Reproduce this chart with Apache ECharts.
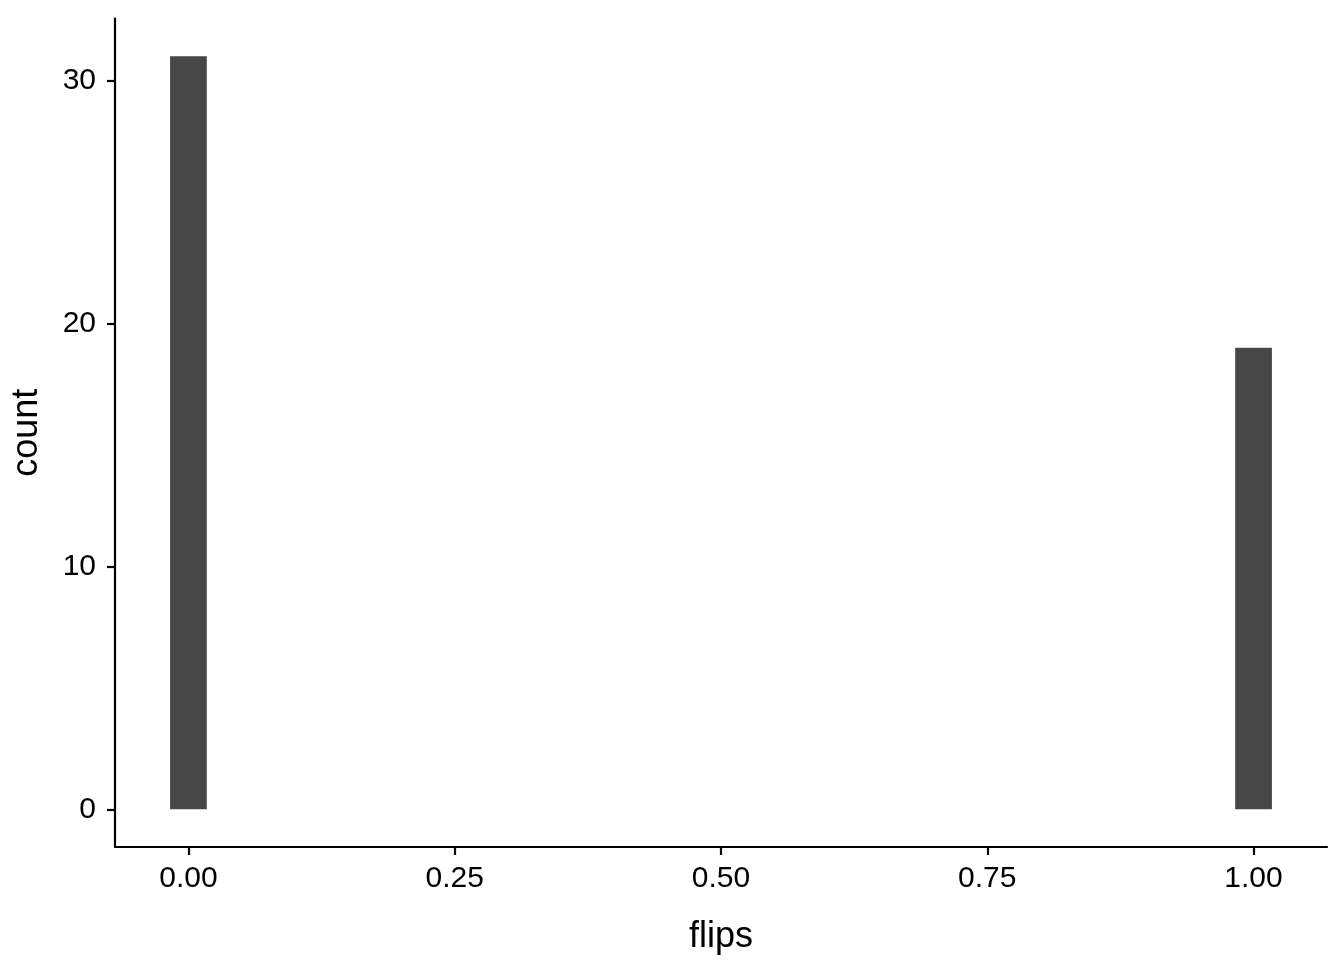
<!DOCTYPE html>
<html>
<head>
<meta charset="utf-8">
<script src="https://cdn.jsdelivr.net/npm/echarts@6/dist/echarts.min.js"></script>
<style>
html,body{margin:0;padding:0;background:#fff;}
#chart{width:1344px;height:960px;}
</style>
</head>
<body>
<div id="chart"></div>
<script>
// Histogram data (30 bins over [0,1]; only non-empty bins listed)
const binCenters = [0, 1];
const counts = [31, 19];
const binWidth = 1 / 29;
const xTicks = [0, 0.25, 0.5, 0.75, 1];
const xTickLabels = ['0.00', '0.25', '0.50', '0.75', '1.00'];
const yTicks = [0, 10, 20, 30];

const xMin = -binWidth / 2, xMax = 1 + binWidth / 2;
const xPad = (xMax - xMin) * 0.05;
const yMaxData = Math.max(...counts);
const yPad = yMaxData * 0.05;

const chart = echarts.init(document.getElementById('chart'), null, {renderer: 'canvas'});
const font = 'Liberation Sans, Arial, Helvetica, sans-serif';

chart.setOption({
  backgroundColor: '#ffffff',
  animation: false,
  grid: {left: 115, right: 17, top: 18.5, bottom: 109.5, containLabel: false},
  xAxis: {
    type: 'value',
    min: xMin - xPad,
    max: xMax + xPad,
    name: 'flips',
    nameLocation: 'middle',
    nameGap: 72,
    nameTextStyle: {fontFamily: font, fontSize: 36, color: '#000'},
    axisLine: {show: true, onZero: false, lineStyle: {color: '#000', width: 2.2}},
    axisTick: {show: true, length: 8, lineStyle: {color: '#000', width: 2.2}, customValues: xTicks},
    axisLabel: {
      fontFamily: font, fontSize: 30, color: '#000', margin: 17,
      customValues: xTicks,
      formatter: function (v) {
        const i = xTicks.findIndex(t => Math.abs(t - v) < 1e-9);
        return i >= 0 ? xTickLabels[i] : '';
      }
    },
    splitLine: {show: false}
  },
  yAxis: {
    type: 'value',
    min: -yPad,
    max: yMaxData + yPad,
    name: 'count',
    nameLocation: 'middle',
    nameGap: 70,
    nameRotate: 90,
    nameTextStyle: {fontFamily: font, fontSize: 36, color: '#000'},
    axisLine: {show: true, onZero: false, lineStyle: {color: '#000', width: 2.2}},
    axisTick: {show: true, length: 8, lineStyle: {color: '#000', width: 2.2}, customValues: yTicks},
    axisLabel: {fontFamily: font, fontSize: 30, color: '#000', margin: 19, customValues: yTicks},
    splitLine: {show: false}
  },
  series: [{
    type: 'custom',
    data: binCenters.map((c, i) => [c, counts[i]]),
    renderItem: function (params, api) {
      const c = api.value(0), n = api.value(1);
      const p0 = api.coord([c - binWidth / 2, n]);
      const p1 = api.coord([c + binWidth / 2, 0]);
      return {
        type: 'rect',
        shape: {x: p0[0], y: p0[1], width: p1[0] - p0[0], height: p1[1] - p0[1]},
        style: {fill: '#474747'}
      };
    }
  }]
});
</script>
</body>
</html>
